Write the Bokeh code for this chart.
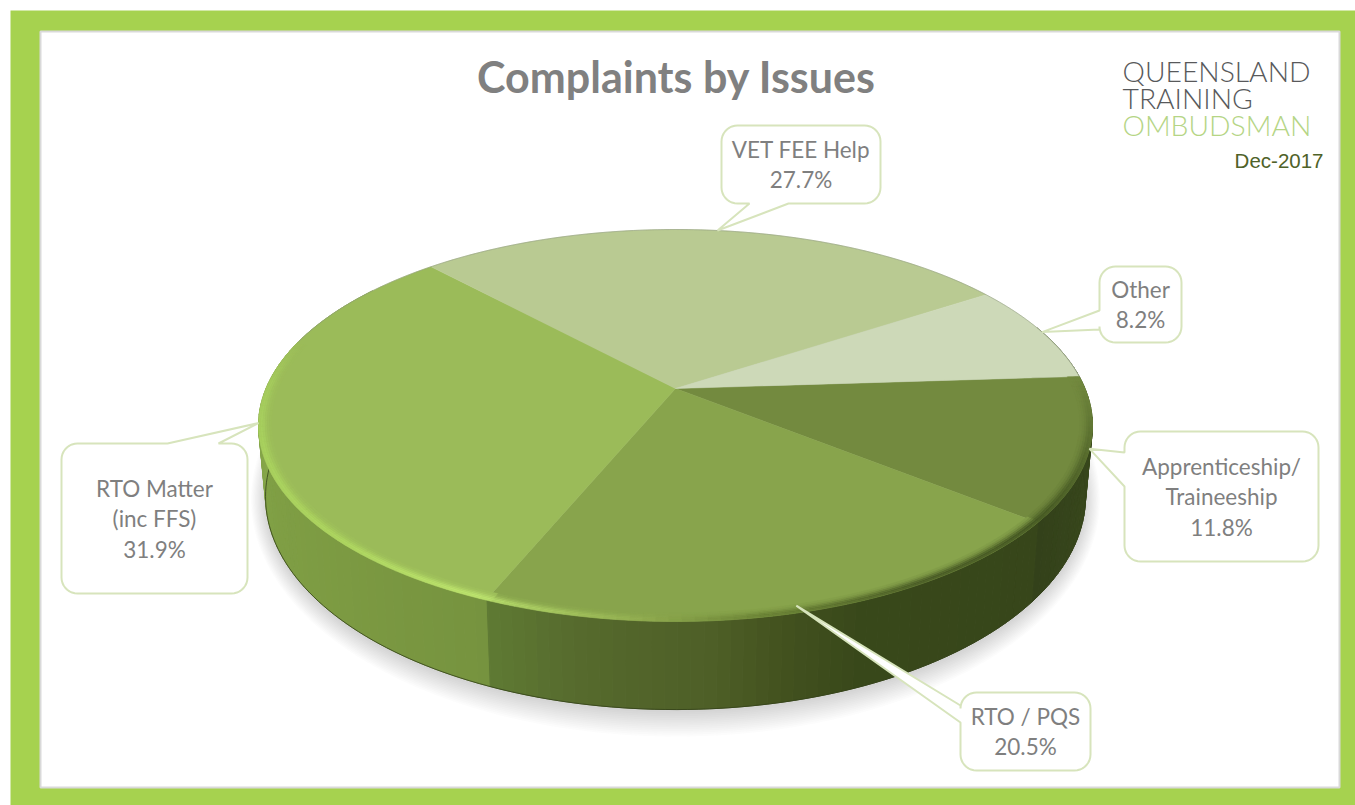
import numpy as np
from bokeh.core.properties import value
from bokeh.embed import file_html
from bokeh.models import ColumnDataSource, Range1d
from bokeh.plotting import figure
from bokeh.resources import INLINE

# Complaint shares, listed clockwise from the right-hand side of the disc
categories = ["Apprenticeship/ Traineeship", "RTO / PQS", "RTO Matter (inc FFS)", "VET FEE Help", "Other"]
shares = [11.8, 20.5, 31.9, 27.7, 8.2]
label_lines = [["Apprenticeship/", "Traineeship"], ["RTO / PQS"], ["RTO Matter", "(inc FFS)"], ["VET FEE Help"], ["Other"]]
face_colors = ["#738a3f", "#88a44c", "#9bbb59", "#b9ca92", "#cdd9b8"]

title_text = "Complaints by Issues"
logo_lines = ["QUEENSLAND", "TRAINING", "OMBUDSMAN"]
period_text = "Dec-2017"

W, H = 1355, 805
START_DEG = -3.7
LABEL_FONT = "Lato"

p = figure(width=W, height=H, x_range=Range1d(0, W), y_range=Range1d(H, 0),
           toolbar_location=None, output_backend="svg", min_border=0,
           background_fill_color="white", border_fill_color="white", outline_line_color=None)
p.axis.visible = False
p.grid.visible = False

# Page frame
p.quad(left=10, right=W, top=10, bottom=H, fill_color="#a6d24f", line_color=None)
p.quad(left=40, right=1339, top=31, bottom=787, fill_color="white", line_color="#d9d9d9", line_width=2)


def project(deg, r=1.0, level="top"):
    """Map a polar position on the disc to the page with a perspective tilt."""
    k = 0.1887
    if level == "top":
        cx, apex, a, b = 675.0, 388.0, 409.5, 189.0
    else:
        cx, apex, a, b = 675.0, 456.0, 402.6, 205.3
    t = np.radians(deg)
    u, v = r * np.cos(t), r * np.sin(t)
    w = 1 - k * v
    return cx + a * u / w, apex + b * v / w


def to_rgb(col):
    return np.array([int(col[i:i + 2], 16) for i in (1, 3, 5)], float)


def to_hex(rgb):
    return "#%02x%02x%02x" % tuple(int(round(x)) for x in rgb)


def blend(stops, deg):
    """Interpolate a colour from (angle, hex) stops."""
    angles = [s[0] for s in stops]
    rgb = np.array([to_rgb(s[1]) for s in stops])
    return np.array([np.interp(deg, angles, rgb[:, c]) for c in range(3)])


total = sum(shares)
sweeps = [s / total * 360 for s in shares]
edges = START_DEG + np.concatenate([[0], np.cumsum(sweeps)])
mids = (edges[:-1] + edges[1:]) / 2

# Soft ground shadow, built from stacked translucent ellipses
shadow_t = np.radians(np.linspace(0, 360, 180))
for grow in np.linspace(24, 0, 14):
    sx = 675 + (410 + grow * 0.6) * np.cos(shadow_t)
    sy = 499 + (213 + grow) * np.sin(shadow_t)
    p.patch(sx, sy, fill_color="#606060", fill_alpha=0.02, line_color=None)

# Side wall: narrow strips, each lit according to where it faces
wall_stops = {
    0: [(-20, "#43552a"), (5, "#3b4b1d"), (edges[1], "#33411a")],
    1: [(edges[1], "#37461a"), (68, "#38481a"), (78, "#43521f"), (86, "#4e5f27"), (100, "#55692c"), (edges[2], "#5f7a34")],
    2: [(edges[2], "#76933f"), (135, "#7c9a42"), (160, "#80a045"), (180, "#88a94b"), (215, "#88a94b")],
}
wall_xs, wall_ys, wall_cols = [], [], []
for i, stops in wall_stops.items():
    lo = -20 if i == 0 else edges[i]
    hi = edges[i + 1] if i < 2 else 215
    grid = np.append(np.arange(lo, hi, 1.5), hi)
    for a0, a1 in zip(grid[:-1], grid[1:]):
        x0, y0 = project(a0)
        x1, y1 = project(a1)
        x2, y2 = project(a1, level="bottom")
        x3, y3 = project(a0, level="bottom")
        wall_xs.append([x0, x1, x2, x3])
        wall_ys.append([y0, y1, y2, y3])
        wall_cols.append(to_hex(blend(stops, (a0 + a1) / 2)))
p.patches("xs", "ys", source=ColumnDataSource(dict(xs=wall_xs, ys=wall_ys, c=wall_cols)),
          fill_color="c", line_color="c", line_width=1.0)

# Thin dark contour where the wall meets the ground
low = np.linspace(3, 178, 140)
lx, ly = project(low, level="bottom")
p.line(lx, ly, line_color="#34421a", line_width=1.0, line_alpha=0.8)

# Top face wedges
for i, col in enumerate(face_colors):
    arc = np.linspace(edges[i], edges[i + 1], 90)
    ax, ay = project(arc)
    cx0, cy0 = project(0.0, r=0.0)
    p.patch(np.r_[cx0, ax], np.r_[cy0, ay], fill_color=col, line_color=col, line_width=0.5)

# Bevelled rim of the top face: bright on the front left, melting into shade on the right
rim_stops = [
    (edges[0], "#738a3f"), (20, "#54682c"), (edges[1], "#455823"), (60, "#4a5c26"), (80, "#6a8235"),
    (95, "#94b052"), (edges[2] - 0.5, "#b5db6b"), (edges[2] + 0.5, "#bee56f"), (135, "#aed660"),
    (165, "#a8d15e"), (182, "#a5cb5d"), (195, "#9bbb59"),
]
face_stops = []
for i in range(3):
    face_stops += [(edges[i] + 0.01, face_colors[i]), (edges[i + 1] - 0.01, face_colors[i])]
band_radii = [1.0, 0.995, 0.99, 0.985, 0.98, 0.975, 0.97]
band_weight = [0.9, 1.0, 0.8, 0.5, 0.25, 0.1]
rim_xs, rim_ys, rim_cols = [], [], []
grid = np.arange(edges[0], 195, 1.5)
for r_out, r_in, wt in zip(band_radii[:-1], band_radii[1:], band_weight):
    for a0, a1 in zip(grid[:-1], grid[1:]):
        x0, y0 = project(a0, r=r_out)
        x1, y1 = project(a1, r=r_out)
        x2, y2 = project(a1, r=r_in)
        x3, y3 = project(a0, r=r_in)
        mid = (a0 + a1) / 2
        rim_xs.append([x0, x1, x2, x3])
        rim_ys.append([y0, y1, y2, y3])
        rim_cols.append(to_hex(wt * blend(rim_stops, mid) + (1 - wt) * blend(face_stops, mid)))
p.patches("xs", "ys", source=ColumnDataSource(dict(xs=rim_xs, ys=rim_ys, c=rim_cols)),
          fill_color="c", line_color="c", line_width=0.4)

# Fine grey line along the far edge of the disc
far = np.linspace(195, edges[5], 160)
fx, fy = project(far)
p.line(fx, fy, line_color="#8f9a80", line_width=0.8, line_alpha=0.7)


def callout(box, side, base, tip, rad=16):
    """Rounded frame with a pointer leaving one of its sides."""
    x0, y0, x1, y1 = box
    t = np.linspace(0, np.pi / 2, 10)
    top = list(zip(x1 - rad + rad * np.sin(t), y0 + rad - rad * np.cos(t)))
    right = list(zip(x1 - rad + rad * np.cos(t), y1 - rad + rad * np.sin(t)))
    bottom = list(zip(x0 + rad - rad * np.sin(t), y1 - rad + rad * np.cos(t)))
    left = list(zip(x0 + rad - rad * np.cos(t), y0 + rad - rad * np.sin(t)))
    if side == "top":
        pts = [(base[0], y0), tip, (base[1], y0)] + top + right + bottom + left
    elif side == "left":
        pts = top + right + bottom + [(x0, base[1]), tip, (x0, base[0])] + left
    else:
        pts = top + right + [(base[1], y1), tip, (base[0], y1)] + bottom + left
    xs, ys = zip(*pts)
    p.patch(list(xs), list(ys), fill_color="white", line_color="#d7e4bc", line_width=2)


# Callout frames sit in category order; the pointer tips follow each wedge's mid angle
callout_layout = [
    ((1124, 431, 1318, 561), "left", (452, 486), 1.0),
    ((960, 692, 1090, 770), "left", (705, 722), 0.975),
    ((61, 443, 247, 593), "top", (167, 218), 1.0),
    ((721, 125, 880, 203), "bottom", (749, 788), 1.0),
    ((1099, 266, 1181, 342), "left", (310, 329), 1.0),
]
text_x, text_y, text_s = [], [], []
LINE_GAP = 30.5
for i, (box, side, base, tip_r) in enumerate(callout_layout):
    tx, ty = project(mids[i], r=tip_r)
    callout(box, side, base, (float(tx), float(ty)))
    rows = label_lines[i] + ["%.1f%%" % shares[i]]
    bx = (box[0] + box[2]) / 2
    by = (box[1] + box[3]) / 2
    for j, row in enumerate(rows):
        text_x.append(bx)
        text_y.append(by + (j - (len(rows) - 1) / 2) * LINE_GAP)
        text_s.append(row)
p.text(text_x, text_y, text=text_s, text_font=value(LABEL_FONT), text_font_size="22.5px",
       text_color="#7f7f7f", text_align="center", text_baseline="middle")

# Heading, organisation mark and reporting period
p.text([676], [76], text=[title_text], text_font=value(LABEL_FONT), text_font_style="bold",
       text_font_size="43px", text_color="#808080", text_align="center", text_baseline="middle")
logo_cols = ["#58595b", "#58595b", "#b5d585"]
for row, yy, col in zip(logo_lines, [70, 97, 124], logo_cols):
    p.text([1122], [yy], text=[row], text_font=value("Lato Light, Lato"), text_font_size="28.3px",
           text_color=col, text_align="left", text_baseline="middle")
p.text([1323], [160], text=[period_text], text_font=value("Liberation Sans"), text_font_size="20.5px",
       text_color="#4f6228", text_align="right", text_baseline="middle")

open("out.html", "w").write(file_html(p, INLINE))
